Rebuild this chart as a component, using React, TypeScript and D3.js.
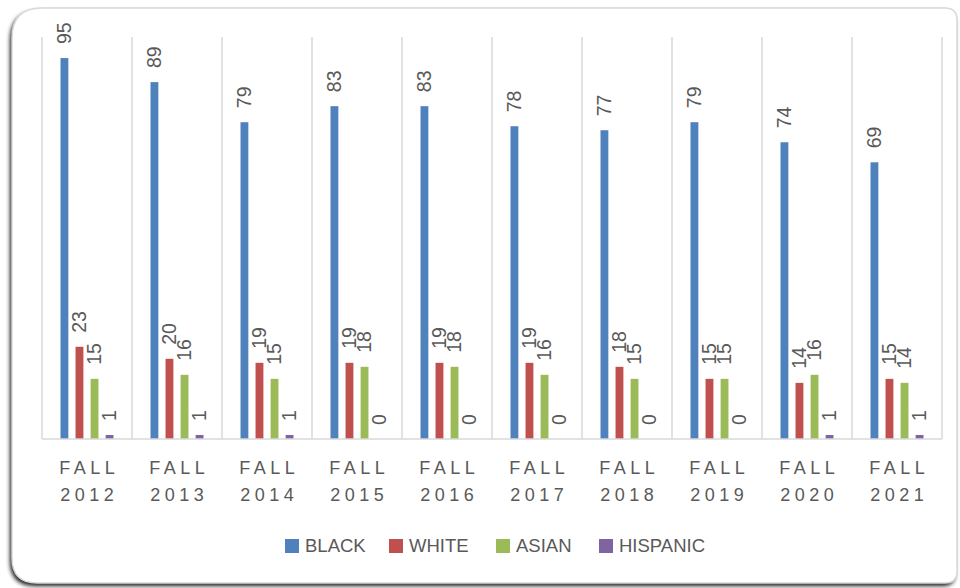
import React from "react";
import * as d3 from "d3";

const categories = ["2012", "2013", "2014", "2015", "2016", "2017", "2018", "2019", "2020", "2021"];
const categoryPrefix = "FALL";
const seriesNames = ["BLACK", "WHITE", "ASIAN", "HISPANIC"];
const black = [95, 89, 79, 83, 83, 78, 77, 79, 74, 69];
const white = [23, 20, 19, 19, 19, 19, 18, 15, 14, 15];
const asian = [15, 16, 15, 18, 18, 16, 15, 15, 16, 14];
const hispanic = [1, 1, 1, 0, 0, 0, 0, 0, 1, 1];
const colors = ["#4f81bd", "#c0504d", "#9bbb59", "#8064a2"];

const seriesValues = [black, white, asian, hispanic];

const W = 960, H = 588;
const plotLeft = 42, plotRight = 942, plotTop = 38, plotBottom = 439;
const TEXT = "#595959";
const GRID = "#d9d9d9";
const FONT = "'Liberation Sans', Arial, sans-serif";
const legendX = [285, 389, 496, 599];

function boxPath(x0: number, y0: number, x1: number, y1: number, tl: number, tr: number, br: number, bl: number) {
  return `M${x0 + tl},${y0} L${x1 - tr},${y0} Q${x1},${y0} ${x1},${y0 + tr} L${x1},${y1 - br} Q${x1},${y1} ${x1 - br},${y1} L${x0 + bl},${y1} Q${x0},${y1} ${x0},${y1 - bl} L${x0},${y0 + tl} Q${x0},${y0} ${x0 + tl},${y0} Z`;
}

export default function App() {
  const x = d3.scaleBand<string>().domain(categories).range([plotLeft, plotRight]).padding(0);
  const xi = d3
    .scaleBand<string>()
    .domain(seriesNames)
    .range([18.5, x.bandwidth() - 18.5])
    .paddingInner(0.478)
    .paddingOuter(0);
  const y = d3.scaleLinear().domain([0, 100]).range([plotBottom, plotTop]);

  const bp = boxPath(12, 8, 957, 583, 30, 12, 12, 25);
  const boundaries = [...categories.map((c) => x(c)!), plotRight];
  const ls = 4.5;

  return (
    <svg width={W} height={H} style={{ position: "absolute", left: 0, top: 0 }} fontFamily={FONT}>
      <defs>
        <filter id="sh" x="-5%" y="-5%" width="110%" height="110%">
          <feGaussianBlur stdDeviation="2" />
        </filter>
      </defs>
      <rect width={W} height={H} fill="#fff" />
      <path d={bp} fill="#000" opacity={0.9} transform="translate(-2,3)" filter="url(#sh)" />
      <path d={bp} fill="#fff" stroke={GRID} strokeWidth={1.5} />

      {boundaries.map((bx, i) => (
        <line key={i} x1={bx} x2={bx} y1={plotTop - 1} y2={plotBottom} stroke={GRID} strokeWidth={1.5} />
      ))}

      {categories.map((c, ci) =>
        seriesNames.map((s, si) => {
          const v = seriesValues[si][ci];
          const bx = x(c)! + xi(s)!;
          const by = y(v);
          const cx = bx + xi.bandwidth() / 2;
          const ly = by - 14;
          return (
            <g key={c + s}>
              <rect x={bx} y={by} width={xi.bandwidth()} height={Math.max(plotBottom - by, 0)} fill={colors[si]} />
              <text
                x={cx}
                y={ly}
                transform={`rotate(-90,${cx},${ly})`}
                dy="0.35em"
                fontSize={19.5}
                fill={TEXT}
                textAnchor="start"
              >
                {v}
              </text>
            </g>
          );
        })
      )}
      <line x1={plotLeft} x2={plotRight} y1={plotBottom} y2={plotBottom} stroke={GRID} strokeWidth={1.5} />

      {categories.map((c) => {
        const cx = x(c)! + x.bandwidth() / 2 + ls / 2;
        return (
          <g key={c} fill={TEXT} fontSize={18} textAnchor="middle" letterSpacing={ls}>
            <text x={cx} y={474}>{categoryPrefix}</text>
            <text x={cx} y={501}>{c}</text>
          </g>
        );
      })}

      {seriesNames.map((s, i) => (
        <g key={s}>
          <rect x={legendX[i]} y={539} width={14} height={14} fill={colors[i]} />
          <text x={legendX[i] + 20} y={552} fontSize={18.5} fill={TEXT}>
            {s}
          </text>
        </g>
      ))}
    </svg>
  );
}
